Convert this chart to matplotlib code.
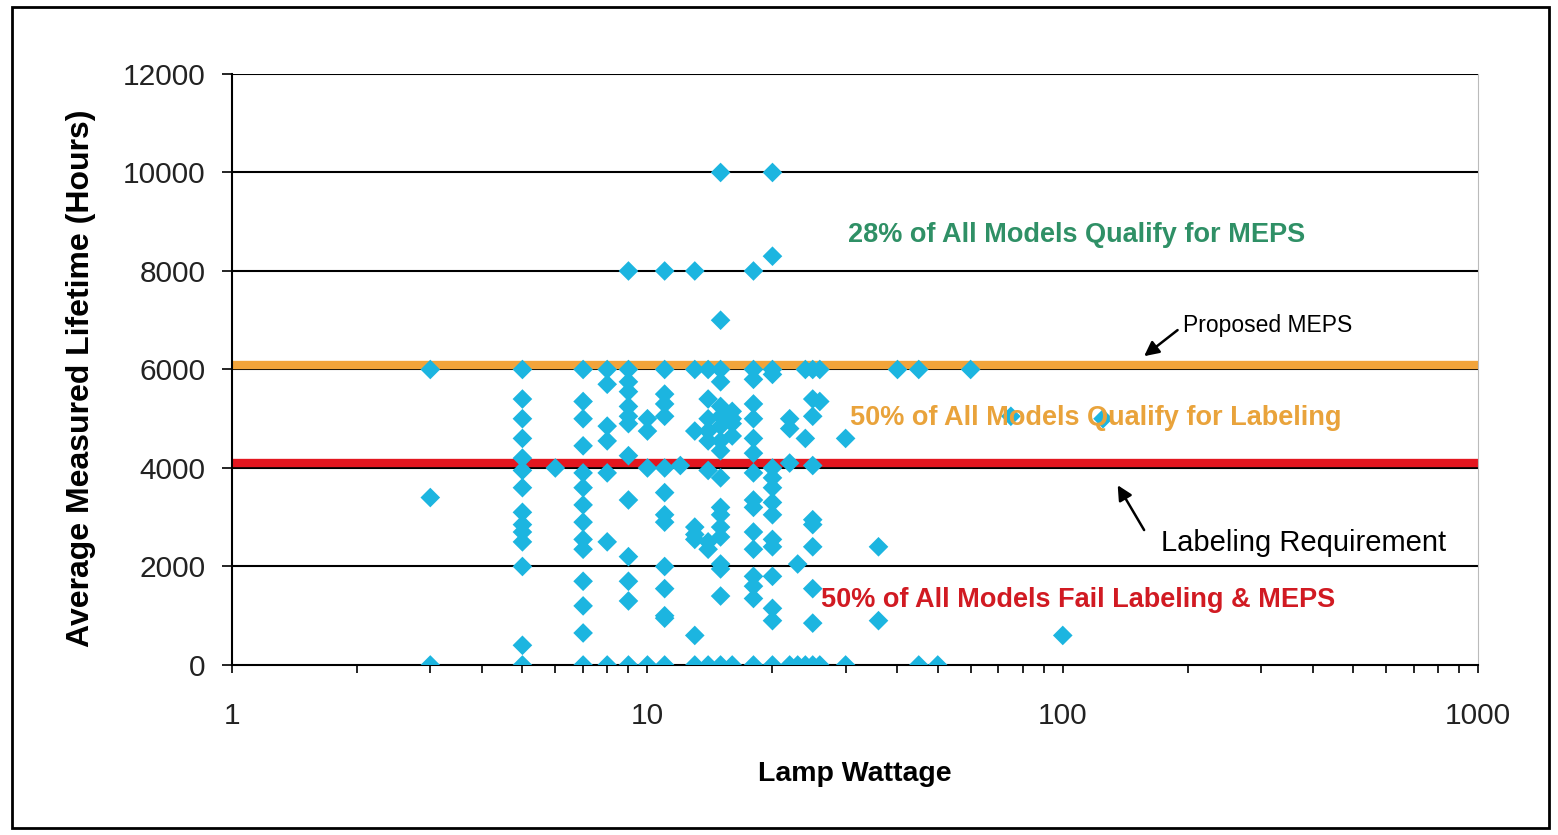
import matplotlib
matplotlib.use('Agg')
import matplotlib.pyplot as plt
from matplotlib.patches import Rectangle
from matplotlib.ticker import FixedLocator, NullFormatter

plt.rcParams['font.family'] = ['Liberation Sans', 'DejaVu Sans']

# lamp wattage (W) and average measured lifetime (hours), one entry per model
watts = [3, 3, 3,
         5, 5, 5, 5, 5, 5, 5, 5, 5, 5, 5, 5, 5, 5,
         6,
         7, 7, 7, 7, 7, 7, 7, 7, 7, 7, 7, 7, 7, 7,
         8, 8, 8, 8, 8, 8, 8,
         9, 9, 9, 9, 9, 9, 9, 9, 9, 9, 9, 9, 9,
         10, 10, 10, 10,
         11, 11, 11, 11, 11, 11, 11, 11, 11, 11, 11, 11, 11, 11,
         12,
         13, 13, 13, 13, 13, 13, 13, 13,
         14, 14, 14, 14, 14, 14, 14, 14, 14,
         15, 15, 15, 15, 15, 15, 15, 15, 15, 15, 15, 15, 15, 15, 15, 15, 15, 15,
         16, 16, 16, 16, 16,
         18, 18, 18, 18, 18, 18, 18, 18, 18, 18, 18, 18, 18, 18, 18, 18,
         20, 20, 20, 20, 20, 20, 20, 20, 20, 20, 20, 20, 20, 20, 20,
         22, 22, 22, 22,
         23, 23,
         24, 24, 24,
         25, 25, 25, 25, 25, 25, 25, 25, 25, 25,
         26, 26, 26,
         30, 30,
         36, 36,
         40, 45, 45, 50, 60, 75, 100, 125]
hours = [6000, 3400, 0,
         6000, 5400, 5000, 4600, 4200, 3950, 3600, 3100, 2850, 2700, 2500, 2000, 400, 0,
         4000,
         6000, 5350, 5000, 4450, 3900, 3600, 3250, 2900, 2550, 2350, 1700, 1200, 650, 0,
         6000, 5700, 4850, 4550, 3900, 2500, 0,
         8000, 6000, 5750, 5550, 5250, 5050, 4900, 4250, 3350, 2200, 1700, 1300, 0,
         5000, 4750, 4000, 0,
         8000, 6000, 5500, 5300, 5050, 4000, 3500, 3050, 2900, 2000, 1550, 1000, 950, 0,
         4050,
         8000, 6000, 4750, 2800, 2650, 2550, 600, 0,
         6000, 5400, 5000, 4750, 4550, 3950, 2500, 2350, 0,
         10000, 7000, 6000, 5750, 5250, 5050, 4850, 4550, 4350, 3800, 3200, 3050, 2800, 2600, 2050, 1950, 1400, 0,
         5150, 5000, 4900, 4650, 0,
         8000, 6000, 5800, 5300, 5000, 4600, 4300, 3900, 3350, 3200, 2700, 2350, 1800, 1600, 1350, 0,
         10000, 8300, 6000, 5900, 4000, 3800, 3600, 3300, 3050, 2550, 2400, 1800, 1150, 900, 0,
         5000, 4800, 4100, 0,
         2050, 0,
         6000, 4600, 0,
         6000, 5400, 5050, 4050, 2950, 2850, 2400, 1550, 850, 0,
         6000, 5350, 0,
         4600, 0,
         2400, 900,
         6000, 6000, 0, 0, 6000, 5050, 600, 5000]

meps_level = 6100
label_level = 4100
y_ticks = [0, 2000, 4000, 6000, 8000, 10000, 12000]
x_ticks = [1, 10, 100, 1000]

fig = plt.figure(figsize=(15.58, 8.35), dpi=100)
ax = fig.add_axes([0.149, 0.2036, 0.7997, 0.7078])

for yv in y_ticks[1:]:
    ax.axhline(yv, color='black', lw=1.5, zorder=1)
ax.axhline(meps_level, color='#f2a43a', lw=6, zorder=2)
ax.axhline(label_level, color='#e3161f', lw=6, zorder=2)

ax.scatter(watts, hours, marker='D', s=100, color='#1cb5e0', edgecolors='none', zorder=3)

ax.set_xscale('log')
ax.set_xlim(1, 1000)
ax.set_ylim(0, 12000)
ax.set_yticks(y_ticks)
ax.set_yticklabels([str(v) for v in y_ticks])
ax.xaxis.set_major_locator(FixedLocator(x_ticks))
ax.set_xticklabels([str(v) for v in x_ticks])
ax.xaxis.set_minor_formatter(NullFormatter())

ax.tick_params(axis='y', direction='out', length=7, width=1.2, labelsize=21.5, pad=12,
               labelcolor='#222222')
ax.tick_params(axis='x', which='both', direction='out', length=6, width=1.2, labelsize=21.5, pad=21,
               labelcolor='#222222')

ax.spines['top'].set_visible(False)
ax.spines['right'].set_color('#bbbbbb')
ax.spines['left'].set_linewidth(1.5)
ax.spines['bottom'].set_linewidth(1.5)

ax.set_xlabel('Lamp Wattage', fontsize=20.5, fontweight='bold')
ax.xaxis.set_label_coords(0.50, -0.162)
ax.set_ylabel('Average Measured Lifetime (Hours)', fontsize=23, fontweight='bold')
ax.yaxis.set_label_coords(-0.109, 0.486)

ax.text(30.4, 8730, '28% of All Models Qualify for MEPS', color='#2f9066',
        fontsize=19.5, fontweight='bold', va='center')
ax.text(30.8, 5020, '50% of All Models Qualify for Labeling', color='#e9a33b',
        fontsize=19.5, fontweight='bold', va='center')
ax.text(26.2, 1320, '50% of All Models Fail Labeling & MEPS', color='#d11a22',
        fontsize=19.5, fontweight='bold', va='center')

ax.text(195, 6900, 'Proposed MEPS', fontsize=16.5, va='center', ha='left')
ax.annotate('', xy=(157, 6270), xytext=(189, 6800),
            arrowprops=dict(arrowstyle='-|>', color='black', lw=1.8,
                            mutation_scale=22, shrinkA=0, shrinkB=0))
ax.text(172, 2480, 'Labeling Requirement', fontsize=21, va='center', ha='left')
ax.annotate('', xy=(135.6, 3650), xytext=(157, 2740),
            arrowprops=dict(arrowstyle='-|>', color='black', lw=1.8,
                            mutation_scale=22, shrinkA=0, shrinkB=0))

fig.patches.append(Rectangle((0.008, 0.008), 0.986, 0.984, transform=fig.transFigure,
                             fill=False, edgecolor='black', lw=2))

fig.savefig('out.png', dpi=100)
